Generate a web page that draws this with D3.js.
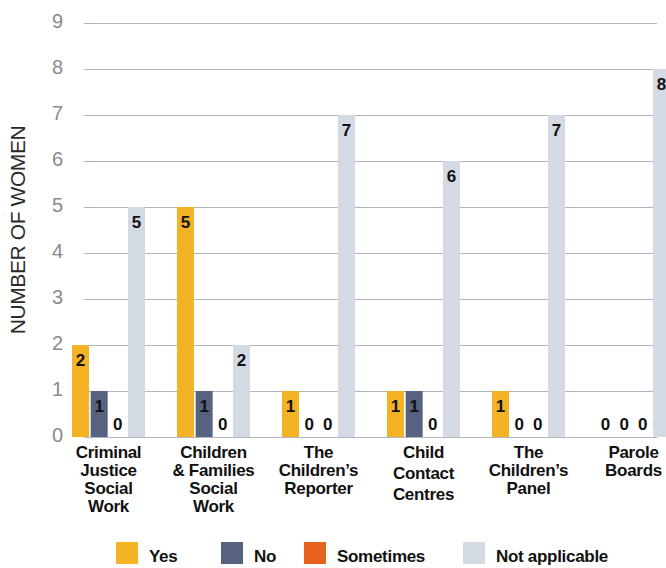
<!DOCTYPE html>
<html>
<head>
<meta charset="utf-8">
<script src="https://cdn.jsdelivr.net/npm/d3@7"></script>
<style>
  html, body { margin: 0; padding: 0; background: #fff; }
  svg { display: block; font-family: "Liberation Sans", Arial, Helvetica, sans-serif; }
</style>
</head>
<body>
<svg id="chart" width="666" height="568"></svg>
<script>
// Services, with the category label split into its printed lines
const categories = [
  "Criminal Justice Social Work",
  "Children & Families Social Work",
  "The Children’s Reporter",
  "Child Contact Centres",
  "The Children’s Panel",
  "Parole Boards"
];
const categoryLines = [
  ["Criminal", "Justice", "Social", "Work"],
  ["Children", "& Families", "Social", "Work"],
  ["The", "Children’s", "Reporter"],
  ["Child", "Contact", "Centres"],
  ["The", "Children’s", "Panel"],
  ["Parole", "Boards"]
];

// Answers given by the women, one array per response
const seriesKeys = ["Yes", "No", "Sometimes", "Not applicable"];
const yesValues = [2, 5, 1, 1, 1, 0];
const noValues = [1, 1, 0, 1, 0, 0];
const sometimesValues = [0, 0, 0, 0, 0, 0];
const notApplicableValues = [5, 2, 7, 6, 7, 8];

const yTicks = [0, 1, 2, 3, 4, 5, 6, 7, 8, 9];
const yTitle = "NUMBER OF WOMEN";

const seriesValues = {
  "Yes": yesValues,
  "No": noValues,
  "Sometimes": sometimesValues,
  "Not applicable": notApplicableValues
};
const colors = {
  "Yes": "#f3b325",
  "No": "#56627f",
  "Sometimes": "#e8621d",
  "Not applicable": "#d4dae3"
};

const svg = d3.select("#chart");
svg.append("rect").attr("width", 666).attr("height", 568).attr("fill", "#fff");

const y = d3.scaleLinear().domain([0, 9]).range([437, 23]);
const x0 = d3.scaleBand().domain(categories).range([72, 670])
  .paddingInner(0.305).paddingOuter(0);
const x1 = d3.scaleBand().domain(seriesKeys).range([0, x0.bandwidth()])
  .paddingInner(0.09).paddingOuter(0);

// Gridlines and value ticks
const gridLeft = 84, gridRight = 657;
const yAxis = svg.append("g")
  .attr("transform", `translate(${gridLeft},0)`)
  .call(d3.axisLeft(y).tickValues(yTicks).tickSize(-(gridRight - gridLeft)).tickPadding(21));
yAxis.select(".domain").remove();
yAxis.selectAll(".tick line").attr("stroke", "#b0b5c3").attr("stroke-width", 1);
yAxis.selectAll(".tick text")
  .attr("fill", "#8a8a8a")
  .attr("font-size", 20)
  .attr("font-family", "'Liberation Sans', Arial, sans-serif")
  .attr("dy", "0.24em");

// Axis title
svg.append("text")
  .attr("transform", `translate(25,${(y(0) + y(9)) / 2}) rotate(-90)`)
  .attr("text-anchor", "middle")
  .attr("font-size", 21)
  .attr("letter-spacing", -0.4)
  .attr("fill", "#2b2b2b")
  .text(yTitle);

// Bars
const rows = categories.map((c, i) => ({
  category: c,
  values: seriesKeys.map(k => ({ key: k, value: seriesValues[k][i] }))
}));

const groups = svg.append("g").selectAll("g")
  .data(rows)
  .join("g")
  .attr("transform", d => `translate(${x0(d.category)},0)`);

groups.selectAll("rect")
  .data(d => d.values.filter(v => v.value > 0))
  .join("rect")
  .attr("x", d => x1(d.key))
  .attr("y", d => y(d.value))
  .attr("width", x1.bandwidth())
  .attr("height", d => y(0) - y(d.value))
  .attr("fill", d => colors[d.key]);

// Value labels: inside the top of each bar, or on the baseline for zero
groups.selectAll("text.value")
  .data(d => d.values)
  .join("text")
  .attr("class", "value")
  .attr("x", d => x1(d.key) + x1.bandwidth() / 2)
  .attr("y", d => d.value > 0 ? y(d.value) + 21 : y(0) - 7)
  .attr("text-anchor", "middle")
  .attr("font-size", 17)
  .attr("font-weight", "bold")
  .attr("fill", "#111")
  .text(d => d.value);

// Category labels
const leading = { "Child Contact Centres": 21 };
svg.append("g").selectAll("text")
  .data(categories)
  .join("text")
  .attr("x", d => x0(d) + x0.bandwidth() / 2)
  .attr("y", 458)
  .attr("text-anchor", "middle")
  .attr("font-size", 17)
  .attr("font-weight", "bold")
  .attr("letter-spacing", -0.3)
  .attr("fill", "#111")
  .each(function (d, i) {
    const t = d3.select(this);
    categoryLines[i].forEach((line, j) => {
      t.append("tspan")
        .attr("x", x0(d) + x0.bandwidth() / 2)
        .attr("dy", j === 0 ? 0 : (leading[d] || 18))
        .text(line);
    });
  });

// Legend
const legendX = [116, 221, 304, 463];
const legend = svg.append("g").selectAll("g")
  .data(seriesKeys)
  .join("g")
  .attr("transform", (d, i) => `translate(${legendX[i]},542)`);
legend.append("rect")
  .attr("width", 22).attr("height", 22)
  .attr("fill", d => colors[d]);
legend.append("text")
  .attr("x", 33).attr("y", 20)
  .attr("font-size", 17)
  .attr("font-weight", "bold")
  .attr("letter-spacing", -0.3)
  .attr("fill", "#111")
  .text(d => d);
</script>
</body>
</html>
